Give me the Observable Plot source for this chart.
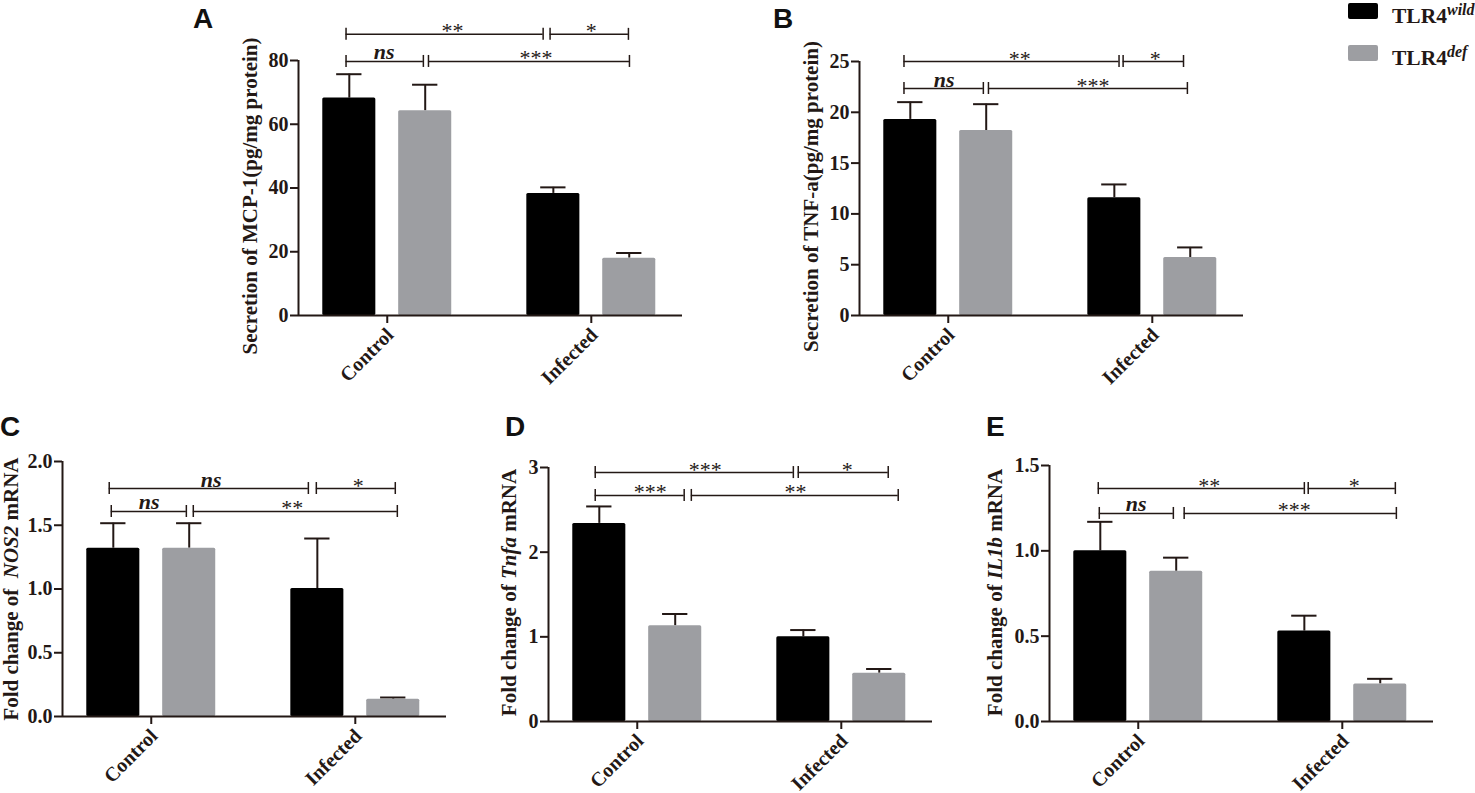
<!DOCTYPE html>
<html>
<head>
<meta charset="utf-8">
<script src="https://cdn.jsdelivr.net/npm/d3@7"></script>
<script src="https://cdn.jsdelivr.net/npm/@observablehq/plot@0.6"></script>
<style>
  html, body { margin: 0; background: #fff; }
  #page { position: relative; width: 1475px; height: 793px; overflow: hidden; font-family: "Liberation Serif", serif; color: #231815; }
  .panel { position: absolute; }
  .letter { position: absolute; font: bold 28px "Liberation Sans", sans-serif; color: #111; }
  .swatch { position: absolute; width: 30px; height: 16px; border-radius: 2px; }
  .legendText { position: absolute; font-weight: bold; font-size: 21.5px; white-space: nowrap; }
  .legendText sup { font-style: italic; font-size: 16px; vertical-align: baseline; position: relative; top: -8px; }
</style>
</head>
<body>
<div id="page"></div>
<script>
const groups = ["Control", "Infected"]
const genotypes = ["wild", "def"]
const genotypeColors = ["#000000", "#9d9ea2"]

// means and error bar tops, order: control wild, control def, infected wild, infected def
const mcpMeans = [68.2, 64.2, 38.3, 18]
const mcpTops = [75.7, 72.4, 40.2, 19.6]
const tnfMeans = [19.3, 18.2, 11.6, 5.7]
const tnfTops = [21, 20.8, 12.9, 6.7]
const nosMeans = [1.32, 1.32, 1.004, 0.136]
const nosTops = [1.516, 1.516, 1.396, 0.149]
const tnfaMeans = [2.34, 1.13, 1.0, 0.57]
const tnfaTops = [2.54, 1.27, 1.08, 0.62]
const il1Means = [1.0, 0.88, 0.53, 0.22]
const il1Tops = [1.17, 0.96, 0.62, 0.25]

// significance brackets: x1, x2 (group units), y (axis units), label, label x
const mcpBrackets = [[-0.202, 0.764, 88.2, "**", 0.32], [0.798, 1.182, 88.2, "*", 1.0], [-0.202, 0.177, 79.7, "ns", -0.015], [0.202, 1.187, 79.7, "***", 0.729]]
const tnfBrackets = [[-0.217, 0.837, 25, "**", 0.35], [0.857, 1.153, 25, "*", 1.015], [-0.217, 0.172, 22.34, "ns", -0.02], [0.197, 1.172, 22.34, "***", 0.709]]
const nosBrackets = [[-0.206, 0.77, 1.788, "ns", 0.294], [0.809, 1.196, 1.788, "*", 1.015], [-0.196, 0.172, 1.608, "ns", -0.01], [0.206, 1.206, 1.608, "**", 0.691]]
const tnfaBrackets = [[-0.206, 0.765, 2.94, "***", 0.333], [0.789, 1.23, 2.94, "*", 1.029], [-0.206, 0.23, 2.67, "***", 0.064], [0.265, 1.279, 2.67, "**", 0.775]]
const il1Brackets = [[-0.196, 0.814, 1.365, "**", 0.348], [0.833, 1.26, 1.365, "*", 1.059], [-0.191, 0.172, 1.219, "ns", -0.01], [0.225, 1.265, 1.219, "***", 0.765]]

const panels = [
    { letter: "A", lx: 193, ly: 3, axisX: 298, y0: 315, h: 255, max: 80, ticks: [0, 20, 40, 60, 80], fmt: "d", means: mcpMeans, tops: mcpTops, brackets: mcpBrackets,
      title: ["Secretion of MCP-1(pg/mg protein)"], titleDx: -48, titleDy: 8 },
    { letter: "B", lx: 773, ly: 3, axisX: 859, y0: 315, h: 254, max: 25, ticks: [0, 5, 10, 15, 20, 25], fmt: "d", means: tnfMeans, tops: tnfTops, brackets: tnfBrackets,
      title: ["Secretion of TNF-a(pg/mg protein)"], titleDx: -48, titleDy: 8 },
    { letter: "C", lx: 0, ly: 411, axisX: 62, y0: 716, h: 255, max: 2, ticks: [0, 0.5, 1, 1.5, 2], fmt: ".1f", means: nosMeans, tops: nosTops, brackets: nosBrackets,
      title: ["Fold change of\u00a0\u00a0", "NOS2", " mRNA"], titleDx: -51, titleDy: 0 },
    { letter: "D", lx: 505, ly: 411, axisX: 548, y0: 721, h: 254, max: 3, ticks: [0, 1, 2, 3], fmt: "d", means: tnfaMeans, tops: tnfaTops, brackets: tnfaBrackets,
      title: ["Fold change of ", "Tnfa", " mRNA"], titleDx: -39, titleDy: -2 },
    { letter: "E", lx: 986, ly: 411, axisX: 1049, y0: 721, h: 256, max: 1.5, ticks: [0, 0.5, 1, 1.5], fmt: ".1f", means: il1Means, tops: il1Tops, brackets: il1Brackets,
      title: ["Fold change of ", "IL1b", " mRNA"], titleDx: -54, titleDy: -1 }
]

const page = d3.select("#page")
const ink = "#231815"
const marginLeft = 60, marginTop = 50, marginBottom = 75, frameWidth = 384
const xDomain = [-0.435, 1.447]

function drawPanel(p) {
    const bars = p.means.map((m, i) => {
        const center = Math.floor(i / 2) + (i % 2 ? 0.186 : -0.186)
        return { center, mean: m, top: p.tops[i], genotype: genotypes[i % 2] }
    })
    const brackets = p.brackets.map(([x1, x2, y, label, labelX]) => ({ x1, x2, y, label, labelX }))
    const cap = p.max * 6 / p.h
    const titleText = p.title.join("")

    const chart = Plot.plot({
        width: marginLeft + frameWidth + 10,
        height: marginTop + p.h + marginBottom,
        marginLeft, marginTop, marginBottom, marginRight: 10,
        style: { fontFamily: "'Liberation Serif', serif", fontWeight: "bold", fontSize: "19px", color: ink, background: "transparent", overflow: "visible" },
        x: { domain: xDomain, label: null },
        y: { domain: [0, p.max], label: null },
        color: { domain: genotypes, range: genotypeColors },
        marks: [
            Plot.ruleX(bars, { x: "center", y1: "mean", y2: "top", stroke: ink, strokeWidth: 2 }),
            Plot.ruleY(bars, { y: "top", x1: d => d.center - 0.062, x2: d => d.center + 0.062, stroke: ink, strokeWidth: 2 }),
            Plot.rectY(bars, { x1: d => d.center - 0.13, x2: d => d.center + 0.13, y1: 0, y2: "mean", fill: "genotype", r: 1.5 }),
            Plot.ruleY([0], { stroke: ink, strokeWidth: 2 }),
            Plot.ruleX([xDomain[0]], { y1: 0, y2: p.max, stroke: ink, strokeWidth: 2 }),
            Plot.axisY({ ticks: p.ticks, tickFormat: d3.format(p.fmt), tickSize: 8, tickPadding: 2, strokeWidth: 2, stroke: ink, fontSize: 20, label: null }),
            Plot.axisX({ ticks: [0, 1], text: null, tickSize: 8, strokeWidth: 2, stroke: ink, label: null }),
            Plot.axisX({ ticks: [0, 1], tickFormat: d => groups[d], tickSize: 0, tickPadding: 16, dx: 3, tickRotate: -45, fontSize: 20, label: null }),
            Plot.ruleY(brackets, { y: "y", x1: "x1", x2: "x2", stroke: ink, strokeWidth: 1.5 }),
            Plot.ruleX(brackets, { x: "x1", y1: d => d.y - cap, y2: d => d.y + cap, stroke: ink, strokeWidth: 1.5 }),
            Plot.ruleX(brackets, { x: "x2", y1: d => d.y - cap, y2: d => d.y + cap, stroke: ink, strokeWidth: 1.5 }),
            Plot.text(brackets.filter(d => d.label !== "ns"), { x: "labelX", y: "y", text: "label", fontSize: 22, fontWeight: "normal", lineAnchor: "bottom", dy: 4 }),
            Plot.text(brackets.filter(d => d.label === "ns"), { x: "labelX", y: "y", text: "label", fontSize: 22, fontStyle: "italic", lineAnchor: "bottom", dy: -2 }),
            Plot.text([titleText], { frameAnchor: "left", textAnchor: "middle", dx: p.titleDx, dy: p.titleDy, rotate: -90, fontSize: 21 })
        ]
    })

    // italic gene names need tspans, which the text mark does not make
    if (p.title.length > 1) {
        d3.select(chart).selectAll("text").filter(function () { return this.textContent === titleText }).each(function () {
            const t = d3.select(this).text(null)
            p.title.forEach((s, i) => t.append("tspan").attr("font-style", i === 1 ? "italic" : null).text(s))
        })
    }

    page.append("div").attr("class", "panel")
        .style("left", (p.axisX - marginLeft) + "px")
        .style("top", (p.y0 - p.h - marginTop) + "px")
        .append(() => chart)
    page.append("div").attr("class", "letter").style("left", p.lx + "px").style("top", p.ly + "px").text(p.letter)
}

panels.forEach(drawPanel)

genotypes.forEach((g, i) => {
    page.append("div").attr("class", "swatch").style("left", "1348px").style("top", (3 + i * 42) + "px").style("background", genotypeColors[i])
    page.append("div").attr("class", "legendText").style("left", "1392px").style("top", (4 + i * 42) + "px").html("TLR4<sup>" + g + "</sup>")
})
</script>
</body>
</html>
